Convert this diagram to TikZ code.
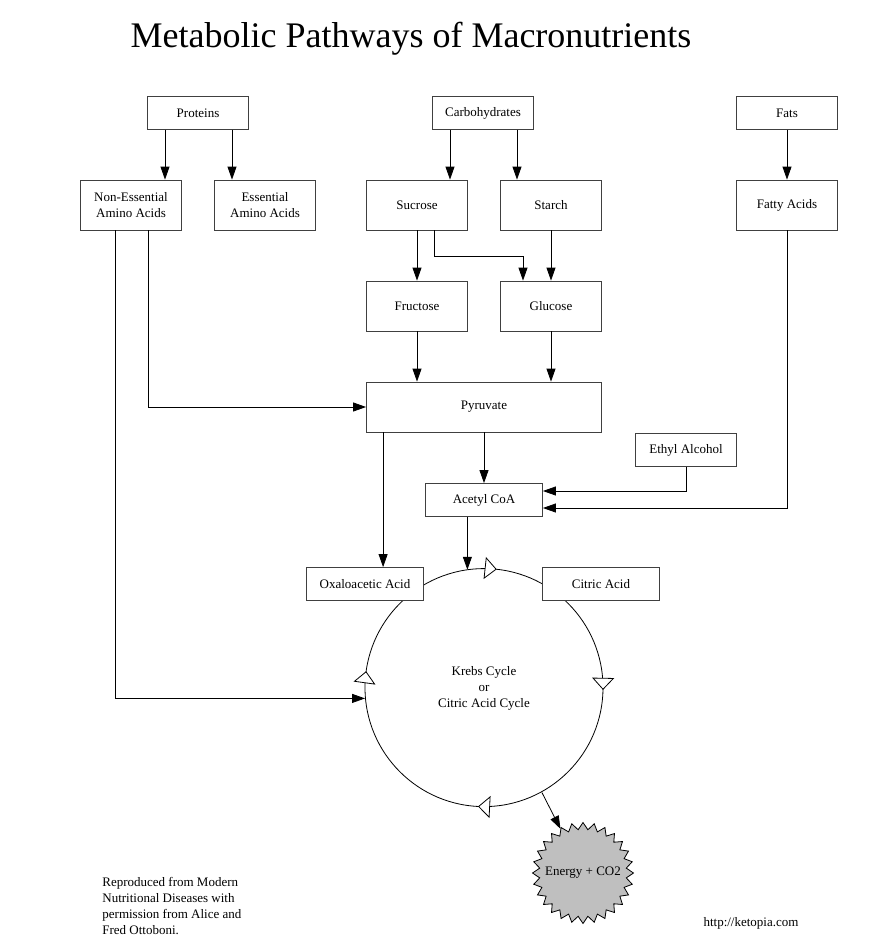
\documentclass[tikz,border=0pt]{standalone}
\usepackage{fontspec}
\setmainfont{Liberation Serif}
\usetikzlibrary{arrows.meta,shapes.geometric,decorations.markings}
\tikzset{
    >={Triangle[length=13pt,width=9pt]},
    every picture/.style={line width=0.8pt},
    box/.style={rectangle,draw=black!75,fill=white,minimum width=101pt,minimum height=50pt,inner sep=2pt,align=center},
    flat/.style={box,minimum height=33pt},
    cycletip/.tip={Triangle[length=12pt,width=22pt,fill=white]},
    cycle marks/.style={decoration={markings,
        mark=at position 0.017 with {\arrow{cycletip}},
        mark=at position 0.253 with {\arrow{cycletip}},
        mark=at position 0.508 with {\arrow{cycletip}},
        mark=at position 0.772 with {\arrow{cycletip}}},
        postaction={decorate}}
}
\begin{document}
\begin{tikzpicture}[x=1pt,y=-1pt,
        every node/.style={font=\fontsize{13}{16}\selectfont}]
        \useasboundingbox (0,0) rectangle (881,945);
        % Title
        \node[font=\fontsize{36}{40}\selectfont] (title) at (411,39) {Metabolic Pathways of Macronutrients};

        % Sources
        \node[flat] (proteins) at (198,113) {Proteins};
        \node[flat] (carbs) at (483,113) {Carbohydrates};
        \node[flat] (fats) at (787,113) {Fats};

        % Second row
        \node[box] (nonessential) at (131,205) {Non-Essential\\Amino Acids};
        \node[box] (essential) at (265,205) {Essential\\Amino Acids};
        \node[box] (sucrose) at (417,205) {Sucrose};
        \node[box] (starch) at (551,205) {Starch};
        \node[box] (fattyacids) at (787,205) {Fatty Acids};

        % Sugars
        \node[box] (fructose) at (417,306) {Fructose};
        \node[box] (glucose) at (551,306) {Glucose};

        \node[box,minimum width=235pt] (pyruvate) at (484,407) {Pyruvate};
        \node[flat] (ethyl) at (686,450) {Ethyl Alcohol};
        \node[flat,minimum width=117pt] (acetyl) at (484,500) {Acetyl CoA};

        % Krebs cycle
        \node[circle,minimum size=238pt,inner sep=0pt,align=center] (krebs) at (484,688) {Krebs Cycle\\or\\Citric Acid Cycle};
        \draw[cycle marks] (krebs.north) arc[start angle=90,end angle=-270,radius=119pt];
        \node[flat,minimum width=117pt] (oxalo) at (365,584) {Oxaloacetic Acid};
        \node[flat,minimum width=117pt] (citric) at (601,584) {Citric Acid};

        \node[star,star points=28,star point ratio=1.16,minimum size=101pt,inner sep=0pt,draw,fill=black!25,
            label={center:Energy + CO2}] (energy) at (583,873) {};

        % Arrows
        \draw[->] ([xshift=-33pt]proteins.south) -- ([xshift=-33pt]proteins.south |- nonessential.north);
        \draw[->] ([xshift=34pt]proteins.south) -- ([xshift=34pt]proteins.south |- essential.north);
        \draw[->] ([xshift=-33pt]carbs.south) -- ([xshift=-33pt]carbs.south |- sucrose.north);
        \draw[->] ([xshift=34pt]carbs.south) -- ([xshift=34pt]carbs.south |- starch.north);
        \draw[->] (fats) -- (fattyacids);
        \draw[->] (sucrose) -- (fructose);
        \draw[->] ([xshift=17pt]sucrose.south) -- ++(0,26) -| ([xshift=-28pt]glucose.north);
        \draw[->] (starch) -- (glucose);
        \draw[->] (fructose.south) -- (fructose.south |- pyruvate.north);
        \draw[->] (glucose.south) -- (glucose.south |- pyruvate.north);
        \draw[->] ([xshift=17pt]nonessential.south) |- (pyruvate.west);
        \draw[->] ([xshift=-16pt]nonessential.south) |- (krebs.185);
        \draw[->] ([xshift=17pt]pyruvate.south west) -- ([xshift=17pt]pyruvate.south west |- oxalo.north);
        \draw[->] (pyruvate) -- (acetyl);
        \draw[->] (ethyl.south) |- ([yshift=9pt]acetyl.east);
        \draw[->] (fattyacids.south) |- ([yshift=-8pt]acetyl.east);
        \draw[->] (acetyl.south -| krebs.98) -- (krebs.98);
        \draw[->] (krebs.-61) -- (energy);

        % Credits
        \node[anchor=north west,align=left,inner sep=0pt] (credit) at (102,877) {Reproduced from Modern\\Nutritional Diseases with\\permission from Alice and\\Fred Ottoboni.};
        \node (url) at (751,923) {http://ketopia.com};
    \end{tikzpicture}
\end{document}
